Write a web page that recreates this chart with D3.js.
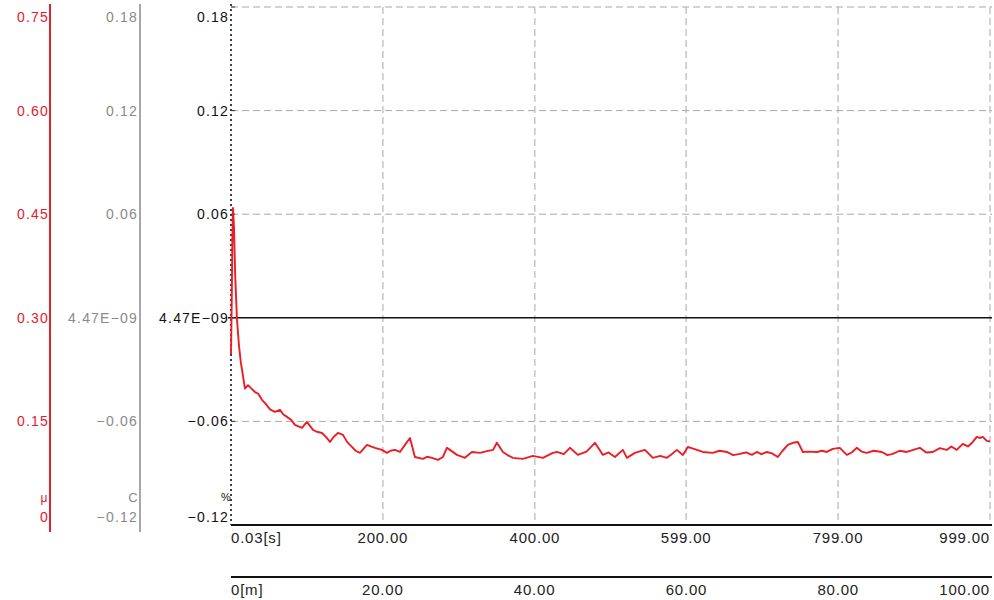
<!DOCTYPE html>
<html>
<head>
<meta charset="utf-8">
<script src="https://cdn.jsdelivr.net/npm/d3@7"></script>
<style>
  html, body { margin: 0; padding: 0; background: #fff; }
  svg { display: block; font-family: "Liberation Sans", Arial, sans-serif; }
</style>
</head>
<body>
<svg id="chart" width="994" height="600"></svg>
<script>
// ---- data ----
const timeSec = [0.03, 1.0, 1.8, 2.66, 4.0, 5.5, 7.9, 10.5, 13.0, 14.5,
  18.4, 22.4, 27.0, 31.6, 36.0, 40.8, 46.0, 51.3, 57.9, 64.5,
  69.0, 73.7, 79.0, 84.2, 93.4, 100.0, 107.9, 113.0, 119.7, 125.0,
  130.3, 135.0, 140.8, 147.4, 153.0, 159.2, 164.0, 169.7, 179.0, 184.0,
  189.5, 198.7, 205.3, 210.0, 215.8, 222.4, 229.0, 235.6, 242.1, 252.7,
  258.0, 264.5, 272.4, 279.0, 284.2, 288.2, 297.4, 307.9, 317.1, 327.7,
  338.2, 345.0, 350.0, 357.9, 364.0, 371.1, 384.2, 397.4, 410.5, 423.7,
  429.0, 438.0, 446.1, 456.6, 468.0, 479.0, 489.5, 497.0, 505.3, 515.8,
  521.1, 531.6, 544.8, 555.3, 565.0, 573.7, 580.0, 586.9, 594.8, 601.3,
  613.2, 621.1, 634.2, 643.0, 652.7, 661.0, 669.8, 678.0, 685.6, 692.1,
  698.0, 705.3, 712.0, 719.8, 726.0, 732.9, 739.5, 746.1, 752.7, 760.0,
  771.1, 778.0, 784.2, 792.1, 801.3, 810.5, 817.0, 823.7, 830.0, 836.9,
  846.0, 856.6, 864.0, 871.1, 880.0, 889.5, 898.0, 906.6, 915.0, 923.7,
  933.0, 942.1, 948.0, 955.3, 963.2, 970.0, 976.3, 981.6, 985.5, 989.5,
  994.8, 999.0];
const strainPct = [-0.021, 0.010, 0.045, 0.0636, 0.052, 0.025, -0.001, -0.016, -0.026, -0.030,
  -0.041, -0.039, -0.041, -0.043, -0.044, -0.0475, -0.050, -0.053, -0.0545, -0.0533,
  -0.056, -0.0574, -0.059, -0.062, -0.0638, -0.0603, -0.0649, -0.066, -0.0667, -0.069,
  -0.0719, -0.069, -0.0667, -0.0678, -0.072, -0.0748, -0.077, -0.0782, -0.0736, -0.0745,
  -0.0753, -0.0765, -0.0782, -0.077, -0.0765, -0.0777, -0.0736, -0.0696, -0.0806, -0.0817,
  -0.0805, -0.0811, -0.0823, -0.0806, -0.0753, -0.0765, -0.0794, -0.0811, -0.0777, -0.0782,
  -0.0771, -0.0765, -0.0724, -0.0777, -0.0795, -0.0811, -0.0817, -0.0800, -0.0811, -0.0782,
  -0.0777, -0.0790, -0.0753, -0.0794, -0.0775, -0.0724, -0.0794, -0.0780, -0.0806, -0.0765,
  -0.0811, -0.0782, -0.0765, -0.0811, -0.0800, -0.0811, -0.0790, -0.0765, -0.0794, -0.0748,
  -0.0765, -0.0777, -0.0782, -0.0770, -0.0777, -0.0795, -0.0788, -0.0780, -0.0794, -0.0777,
  -0.0790, -0.0777, -0.0785, -0.0806, -0.0770, -0.0736, -0.0724, -0.0719, -0.0777, -0.0775,
  -0.0777, -0.0770, -0.0777, -0.0759, -0.0753, -0.0794, -0.0780, -0.0753, -0.0775, -0.0782,
  -0.0770, -0.0777, -0.0795, -0.0788, -0.0770, -0.0777, -0.0765, -0.0753, -0.0780, -0.0777,
  -0.0755, -0.0765, -0.0745, -0.0765, -0.0730, -0.0745, -0.0719, -0.0690, -0.0696, -0.0690,
  -0.0713, -0.0716];

const pctTicks = [0.18, 0.12, 0.06, 0, -0.06, -0.12];
const pctLabels = ["0.18", "0.12", "0.06", "4.47E\u221209", "\u22120.06", "\u22120.12"];
const muTicks = [0.75, 0.60, 0.45, 0.30, 0.15, 0];
const muLabels = ["0.75", "0.60", "0.45", "0.30", "0.15", "0"];
const cLabels = ["0.18", "0.12", "0.06", "4.47E\u221209", "\u22120.06", "\u22120.12"];
const timeTicks = [0.03, 200, 400, 599, 799, 999];
const timeLabels = ["0.03[s]", "200.00", "400.00", "599.00", "799.00", "999.00"];
const distTicks = [0, 20, 40, 60, 80, 100];
const distLabels = ["0[m]", "20.00", "40.00", "60.00", "80.00", "100.00"];
const unitLabels = { mu: "\u03bc", c: "C", pct: "%" };

// ---- layout ----
const svg = d3.select("#chart");
const plotL = 231, plotR = 992, plotT = 7, plotB = 525;
const xT = d3.scaleLinear().domain([0.03, 999]).range([231, 990]);
const xM = d3.scaleLinear().domain([0, 100]).range([231, 990]);
const yP = d3.scaleLinear().domain([-0.12, 0.18]).range([plotB, plotT]);
const yMu = d3.scaleLinear().domain([0, 0.75]).range([plotB, plotT]);

const RED = "#e4202c", GRAY = "#8a8a8a";
const fontSize = 14, ls = "1.2px";

function labelY(y) {
  if (y < plotT + 5) return y + 10;
  if (y > plotB - 5) return y - 8;
  return y;
}

// ---- grid ----
const grid = svg.append("g");
grid.selectAll("line.h").data([0.18, 0.12, 0.06, -0.06]).enter().append("line")
  .attr("x1", plotL).attr("x2", plotR)
  .attr("y1", d => yP(d)).attr("y2", d => yP(d))
  .attr("stroke", "#a9a9a9").attr("stroke-width", 1).attr("stroke-dasharray", "7,4");
grid.selectAll("line.v").data(timeTicks.slice(1)).enter().append("line")
  .attr("x1", d => xT(d)).attr("x2", d => xT(d))
  .attr("y1", plotT).attr("y2", plotB)
  .attr("stroke", "#a9a9a9").attr("stroke-width", 1).attr("stroke-dasharray", "7,4");

// zero line
svg.append("line").attr("x1", plotL - 3).attr("x2", plotR)
  .attr("y1", yP(0)).attr("y2", yP(0))
  .attr("stroke", "#111").attr("stroke-width", 1.5);

// ---- left axes ----
svg.append("line").attr("x1", 50).attr("x2", 50).attr("y1", 4).attr("y2", 532)
  .attr("stroke", RED).attr("stroke-width", 2);
svg.append("g").selectAll("text").data(muTicks).enter().append("text")
  .attr("x", 49).attr("y", d => labelY(yMu(d))).attr("dy", "0.35em")
  .attr("text-anchor", "end").attr("fill", RED)
  .attr("font-size", fontSize).attr("letter-spacing", ls)
  .text((d, i) => muLabels[i]);
svg.append("text").attr("x", 44).attr("y", 498).attr("dy", "0.35em")
  .attr("text-anchor", "middle").attr("fill", RED).attr("font-size", 12).text(unitLabels.mu);

svg.append("line").attr("x1", 140).attr("x2", 140).attr("y1", 4).attr("y2", 532)
  .attr("stroke", GRAY).attr("stroke-width", 1.5);
svg.append("g").selectAll("text").data(pctTicks).enter().append("text")
  .attr("x", 138).attr("y", d => labelY(yP(d))).attr("dy", "0.35em")
  .attr("text-anchor", "end").attr("fill", GRAY)
  .attr("font-size", fontSize).attr("letter-spacing", ls)
  .text((d, i) => cLabels[i]);
svg.append("text").attr("x", 133).attr("y", 497).attr("dy", "0.35em")
  .attr("text-anchor", "middle").attr("fill", GRAY).attr("font-size", 13).text(unitLabels.c);

svg.append("line").attr("x1", plotL).attr("x2", plotL).attr("y1", 4).attr("y2", plotB)
  .attr("stroke", "#111").attr("stroke-width", 1.6).attr("stroke-dasharray", "2,3");
const pAxis = svg.append("g");
pAxis.selectAll("line").data(pctTicks).enter().append("line")
  .attr("x1", plotL).attr("x2", plotL + 4)
  .attr("y1", d => yP(d)).attr("y2", d => yP(d))
  .attr("stroke", "#333").attr("stroke-width", 1);
pAxis.selectAll("text").data(pctTicks).enter().append("text")
  .attr("x", 229).attr("y", d => labelY(yP(d))).attr("dy", "0.35em")
  .attr("text-anchor", "end").attr("fill", "#111")
  .attr("font-size", fontSize).attr("letter-spacing", ls)
  .text((d, i) => pctLabels[i]);
svg.append("text").attr("x", 226).attr("y", 497).attr("dy", "0.35em")
  .attr("text-anchor", "middle").attr("fill", "#111").attr("font-size", 11).text(unitLabels.pct);

// ---- bottom axes ----
svg.append("line").attr("x1", plotL).attr("x2", plotR).attr("y1", plotB).attr("y2", plotB)
  .attr("stroke", "#111").attr("stroke-width", 2);
svg.append("g").selectAll("text").data(timeTicks).enter().append("text")
  .attr("x", d => xT(d)).attr("y", 538).attr("dy", "0.35em")
  .attr("text-anchor", (d, i) => i === 0 ? "start" : (i === timeTicks.length - 1 ? "end" : "middle"))
  .attr("fill", "#222").attr("font-size", 15).attr("letter-spacing", "0.8px")
  .text((d, i) => timeLabels[i]);

svg.append("line").attr("x1", plotL).attr("x2", plotR).attr("y1", 577).attr("y2", 577)
  .attr("stroke", "#111").attr("stroke-width", 2);
svg.append("g").selectAll("text").data(distTicks).enter().append("text")
  .attr("x", d => xM(d)).attr("y", 590).attr("dy", "0.35em")
  .attr("text-anchor", (d, i) => i === 0 ? "start" : (i === distTicks.length - 1 ? "end" : "middle"))
  .attr("fill", "#222").attr("font-size", 15).attr("letter-spacing", "0.8px")
  .text((d, i) => distLabels[i]);

// ---- series ----
const pts = timeSec.map((t, i) => [t, strainPct[i]]);
const line = d3.line().x(d => xT(d[0])).y(d => yP(d[1]));
svg.append("path").datum(pts)
  .attr("d", line).attr("fill", "none")
  .attr("stroke", "#ee1c24").attr("stroke-width", 1.9).attr("stroke-linejoin", "round");
</script>
</body>
</html>
